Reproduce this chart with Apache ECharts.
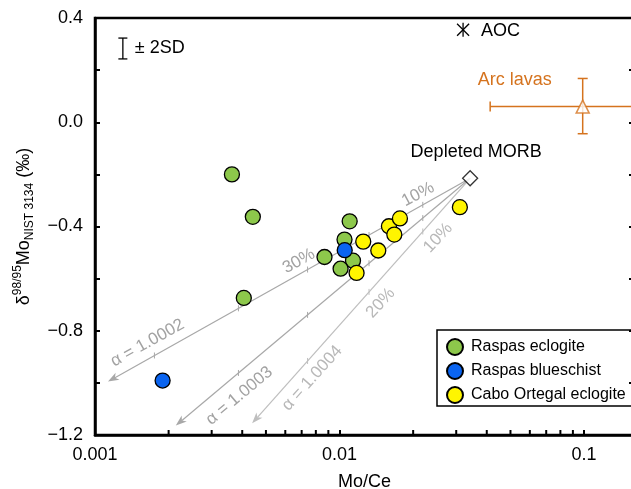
<!DOCTYPE html>
<html><head><meta charset="utf-8">
<script src="https://cdn.jsdelivr.net/npm/echarts@6/dist/echarts.min.js"></script>
<style>html,body{margin:0;padding:0;background:#fff;overflow:hidden}#c{width:631px;height:489px}</style>
</head><body><div id="c"></div>
<script>
const FONT = '"Liberation Sans", Arial, Helvetica, sans-serif';

// ---- data (Mo/Ce vs δ98/95Mo) ----
const raspasEclogiteMoCe  = [0.00363, 0.00442, 0.00406, 0.0110, 0.01048, 0.00868, 0.01135, 0.0101];
const raspasEclogiteDelta = [-0.200, -0.363, -0.674, -0.380, -0.450, -0.517, -0.531, -0.562];
const raspasBlueschistMoCe  = [0.0105, 0.00189];
const raspasBlueschistDelta = [-0.491, -0.991];
const caboOrtegalMoCe  = [0.01174, 0.0125, 0.0144, 0.01592, 0.01766, 0.01675, 0.03105];
const caboOrtegalDelta = [-0.578, -0.458, -0.492, -0.399, -0.369, -0.431, -0.326];
const depletedMorb = [0.0342, -0.215];
const aoc = [0.0320, 0.355];
const arcLavas = [0.0987, 0.06];
const arcLavasMoCeRange = [0.0413, 0.158];
const arcLavasDeltaRange = [-0.044, 0.168];
const sdPoint = [0.0013, 0.283];
const sdHalf = 0.04;
const curveAlpha = ['1.0002', '1.0003', '1.0004'];
const curveEndMoCe  = [0.00113, 0.00214, 0.00439];
const curveEndDelta = [-0.995, -1.164, -1.155];
const curveTickMoCe = [0.0219, 0.0132, 0.0074, 0.00386, 0.00175];
const percentLabels = ['10%', '30%', '10%', '20%'];
const xMinorTicks = [0.002,0.003,0.004,0.005,0.006,0.007,0.008,0.009,0.02,0.03,0.04,0.05,0.06,0.07,0.08,0.09];

const zip = (a, b) => a.map((v, i) => [v, b[i]]);
const GRAY = '#A8A8A8', GRAY2 = '#BEBEBE', TGRAY = '#A2A2A2', TGRAY2 = '#B8B8B8';
const ORANGE = '#D5731E';

// annotation placement (data coords) and rotation in degrees
const notes = [
  { at: [0.02094, -0.277], text: percentLabels[0], rot: 28, color: TGRAY },
  { at: [0.00681, -0.533], text: percentLabels[1], rot: 29, color: TGRAY },
  { at: [0.0253, -0.4435], text: percentLabels[2], rot: 47, color: TGRAY2 },
  { at: [0.01472, -0.6935], text: percentLabels[3], rot: 47, color: TGRAY2 },
  { at: [0.001638, -0.847], text: 'α = ' + curveAlpha[0], rot: 29, color: TGRAY },
  { at: [0.003892, -1.05], text: 'α = ' + curveAlpha[1], rot: 40, color: TGRAY },
  { at: [0.007727, -0.982], text: 'α = ' + curveAlpha[2], rot: 48, color: TGRAY2 }
];

const chart = echarts.init(document.getElementById('c'), null, { renderer: 'canvas' });

const option = {
  animation: false,
  backgroundColor: '#fff',
  textStyle: { fontFamily: FONT },
  grid: { left: 95, top: 18, right: -3, bottom: 54, outerBoundsMode: 'none', containLabel: false,
    show: true, borderColor: '#000', borderWidth: 2.5, backgroundColor: 'transparent' },
  graphic: [{
    type: 'rect', z: 100, silent: true,
    shape: { x: 437, y: 330, width: 320, height: 76 },
    style: { fill: 'none', stroke: '#000', lineWidth: 1.5 }
  }],
  xAxis: {
    type: 'log', logBase: 10, min: 0.001, max: 0.16,
    name: 'Mo/Ce', nameLocation: 'middle', nameGap: 38,
    nameTextStyle: { fontFamily: FONT, fontSize: 18, color: '#000' },
    axisLine: { onZero: false, lineStyle: { color: '#000', width: 2.5 } },
    axisTick: { inside: true, length: 5, lineStyle: { color: '#000', width: 2 } },
    minorTick: { show: false },
    splitLine: { show: false },
    axisLabel: {
      margin: 11, fontSize: 18, color: '#000', fontFamily: FONT,
      formatter: v => { const l = Math.log10(v); return Math.abs(l - Math.round(l)) < 1e-6 ? String(+v.toPrecision(1)) : ''; }
    }
  },
  yAxis: [{
    type: 'value', min: -1.2, max: 0.4, interval: 0.2,
    name: '{d|δ}{sup|98/95}{m|Mo}{sub|NIST 3134}{m| (‰)}',
    nameLocation: 'middle', nameGap: 59,
    nameTextStyle: {
      fontFamily: FONT, fontSize: 18, color: '#000',
      rich: {
        d: { fontFamily: FONT, fontSize: 18, verticalAlign: 'middle', lineHeight: 24, color: '#000' },
        m: { fontFamily: FONT, fontSize: 18, verticalAlign: 'middle', lineHeight: 24, color: '#000' },
        sup: { fontFamily: FONT, fontSize: 12, verticalAlign: 'top', lineHeight: 14, color: '#000' },
        sub: { fontFamily: FONT, fontSize: 12, verticalAlign: 'bottom', lineHeight: 14, color: '#000' }
      }
    },
    axisLine: { lineStyle: { color: '#000', width: 2.5 } },
    axisTick: { inside: true, length: 5, lineStyle: { color: '#000', width: 2 } },
    splitLine: { show: false },
    axisLabel: {
      margin: 12, fontSize: 18, color: '#000', fontFamily: FONT,
      formatter: v => { const k = Math.round(v * 10); if (k % 4 !== 0) return ''; return (k < 0 ? '\u2212' : '') + Math.abs(k / 10).toFixed(1); }
    }
  }, {
    type: 'value', position: 'right', min: -1.2, max: 0.4, interval: 0.2,
    axisLine: { show: true, lineStyle: { color: '#000', width: 2.5 } },
    axisTick: { inside: true, length: 5, lineStyle: { color: '#000', width: 2 } },
    axisLabel: { show: false }, splitLine: { show: false }
  }],
  legend: {
    data: ['Raspas eclogite', 'Raspas blueschist', 'Cabo Ortegal eclogite'],
    orient: 'vertical', left: 437, top: 330,
    itemWidth: 16, itemHeight: 16, itemGap: 6,
    padding: [8, 10, 6, 9],
    borderWidth: 0,
    icon: 'circle',
    textStyle: { fontSize: 16, fontFamily: FONT, color: '#000', padding: [0, 0, 0, 3] }
  },
  series: [
    {
      type: 'custom', name: 'curves', z: 1, silent: true, clip: false,
      data: curveAlpha.map((a, i) => [curveEndMoCe[i], curveEndDelta[i]]),
      encode: { x: 0, y: 1 },
      renderItem(params, api) {
        const i = params.dataIndex;
        const p0 = api.coord(depletedMorb);
        const p1 = api.coord([curveEndMoCe[i], curveEndDelta[i]]);
        const col = i === 2 ? GRAY2 : GRAY;
        const dx = p1[0] - p0[0], dy = p1[1] - p0[1], len = Math.hypot(dx, dy);
        const ux = dx / len, uy = dy / len, nx = -uy, ny = ux;
        const L = 11, W = 4, N = 3;
        const ch = [];
        ch.push({ type: 'line', shape: { x1: p0[0], y1: p0[1], x2: p1[0] - ux * (L - N), y2: p1[1] - uy * (L - N) }, style: { stroke: col, lineWidth: 1.2 } });
        ch.push({ type: 'polygon', shape: { points: [
          [p1[0], p1[1]],
          [p1[0] - ux * L + nx * W, p1[1] - uy * L + ny * W],
          [p1[0] - ux * (L - N), p1[1] - uy * (L - N)],
          [p1[0] - ux * L - nx * W, p1[1] - uy * L - ny * W]] }, style: { fill: col } });
        const lx0 = Math.log10(depletedMorb[0]), lx1 = Math.log10(curveEndMoCe[i]);
        curveTickMoCe.forEach(v => {
          const lv = Math.log10(v);
          if (lv < lx0 && lv > lx1 + 0.02) {
            const t = (lv - lx0) / (lx1 - lx0);
            const c = api.coord([v, depletedMorb[1] + t * (curveEndDelta[i] - depletedMorb[1])]);
            ch.push({ type: 'line', shape: { x1: c[0], y1: c[1] - 3, x2: c[0], y2: c[1] + 3 }, style: { stroke: col, lineWidth: 1 } });
          }
        });
        return { type: 'group', children: ch };
      }
    },
    {
      type: 'custom', name: 'notes', z: 2, silent: true, clip: false,
      data: notes.map(n => n.at), encode: { x: 0, y: 1 },
      renderItem(params, api) {
        const n = notes[params.dataIndex];
        const c = api.coord(n.at);
        return { type: 'text', x: c[0], y: c[1], rotation: n.rot * Math.PI / 180,
          style: { text: n.text, fill: n.color, font: '17px ' + FONT, align: 'center', verticalAlign: 'middle' } };
      }
    },
    {
      type: 'custom', name: 'xminor', z: 5, silent: true, clip: false,
      data: xMinorTicks.map(v => [v, -1.2]), encode: { x: 0, y: 1 },
      renderItem(params, api) {
        const c = api.coord([api.value(0), -1.2]);
        return { type: 'line', shape: { x1: c[0], y1: c[1], x2: c[0], y2: c[1] - 5 }, style: { stroke: '#000', lineWidth: 2 } };
      }
    },
    {
      type: 'custom', name: 'sd', z: 3, silent: true, clip: false,
      data: [sdPoint], encode: { x: 0, y: 1 },
      renderItem(params, api) {
        const a = api.coord([sdPoint[0], sdPoint[1] + sdHalf]);
        const b = api.coord([sdPoint[0], sdPoint[1] - sdHalf]);
        const s = { stroke: '#000', lineWidth: 1.3 };
        return { type: 'group', children: [
          { type: 'line', shape: { x1: a[0], y1: a[1], x2: b[0], y2: b[1] }, style: s },
          { type: 'line', shape: { x1: a[0] - 4.5, y1: a[1], x2: a[0] + 4.5, y2: a[1] }, style: s },
          { type: 'line', shape: { x1: b[0] - 4.5, y1: b[1], x2: b[0] + 4.5, y2: b[1] }, style: s },
          { type: 'text', x: a[0] + 12, y: (a[1] + b[1]) / 2, style: { text: '± 2SD', fill: '#000', font: '18px ' + FONT, align: 'left', verticalAlign: 'middle' } }
        ] };
      }
    },
    {
      type: 'custom', name: 'aoc', z: 3, silent: true, clip: false,
      data: [aoc], encode: { x: 0, y: 1 },
      renderItem(params, api) {
        const c = api.coord(aoc);
        const m = api.coord(depletedMorb);
        const s = { stroke: '#000', lineWidth: 1.3 };
        return { type: 'group', children: [
          { type: 'line', shape: { x1: c[0], y1: c[1] - 7, x2: c[0], y2: c[1] + 7 }, style: s },
          { type: 'line', shape: { x1: c[0] - 6, y1: c[1] - 6, x2: c[0] + 6, y2: c[1] + 6 }, style: s },
          { type: 'line', shape: { x1: c[0] - 6, y1: c[1] + 6, x2: c[0] + 6, y2: c[1] - 6 }, style: s },
          { type: 'text', x: c[0] + 18, y: c[1] + 1, style: { text: 'AOC', fill: '#000', font: '18px ' + FONT, align: 'left', verticalAlign: 'middle' } },
          { type: 'text', x: m[0] + 6, y: m[1] - 26, style: { text: 'Depleted MORB', fill: '#000', font: '18px ' + FONT, align: 'center', verticalAlign: 'middle' } }
        ] };
      }
    },
    {
      type: 'custom', name: 'arcbars', z: 3, silent: true, clip: false,
      data: [arcLavas], encode: { x: 0, y: 1 },
      renderItem(params, api) {
        const c = api.coord(arcLavas);
        const l = api.coord([arcLavasMoCeRange[0], arcLavas[1]]);
        const r = api.coord([arcLavasMoCeRange[1], arcLavas[1]]);
        const t = api.coord([arcLavas[0], arcLavasDeltaRange[1]]);
        const b = api.coord([arcLavas[0], arcLavasDeltaRange[0]]);
        const s = { stroke: ORANGE, lineWidth: 1.5 };
        return { type: 'group', children: [
          { type: 'line', shape: { x1: l[0], y1: l[1], x2: r[0], y2: r[1] }, style: s },
          { type: 'line', shape: { x1: l[0], y1: l[1] - 5, x2: l[0], y2: l[1] + 5 }, style: s },
          { type: 'line', shape: { x1: r[0], y1: r[1] - 5, x2: r[0], y2: r[1] + 5 }, style: s },
          { type: 'line', shape: { x1: t[0], y1: t[1], x2: b[0], y2: b[1] }, style: s },
          { type: 'line', shape: { x1: t[0] - 5, y1: t[1], x2: t[0] + 5, y2: t[1] }, style: s },
          { type: 'line', shape: { x1: b[0] - 5, y1: b[1], x2: b[0] + 5, y2: b[1] }, style: s },
          { type: 'text', x: c[0] - 68, y: c[1] - 27, style: { text: 'Arc lavas', fill: ORANGE, font: '18px ' + FONT, align: 'center', verticalAlign: 'middle' } }
        ] };
      }
    },
    {
      type: 'scatter', name: 'Arc lavas', z: 4, silent: true,
      data: [arcLavas], symbol: 'triangle', symbolSize: [13, 13],
      itemStyle: { color: '#fff', borderColor: ORANGE, borderWidth: 1.5 }
    },
    {
      type: 'scatter', name: 'Depleted MORB', z: 4, silent: true,
      data: [depletedMorb], symbol: 'diamond', symbolSize: 15,
      itemStyle: { color: '#fff', borderColor: '#000', borderWidth: 1.3 }
    },
    {
      type: 'scatter', name: 'Raspas eclogite', z: 5,
      data: zip(raspasEclogiteMoCe, raspasEclogiteDelta), symbol: 'circle', symbolSize: 15,
      itemStyle: { color: '#8DC84B', borderColor: '#000', borderWidth: 1.3, opacity: 1 }
    },
    {
      type: 'scatter', name: 'Raspas blueschist', z: 6,
      data: zip(raspasBlueschistMoCe, raspasBlueschistDelta), symbol: 'circle', symbolSize: 15,
      itemStyle: { color: '#0A64F0', borderColor: '#000', borderWidth: 1.3, opacity: 1 }
    },
    {
      type: 'scatter', name: 'Cabo Ortegal eclogite', z: 7,
      data: zip(caboOrtegalMoCe, caboOrtegalDelta), symbol: 'circle', symbolSize: 15,
      itemStyle: { color: '#FFF500', borderColor: '#000', borderWidth: 1.3, opacity: 1 }
    }
  ]
};
chart.setOption(option);
</script>
</body></html>
